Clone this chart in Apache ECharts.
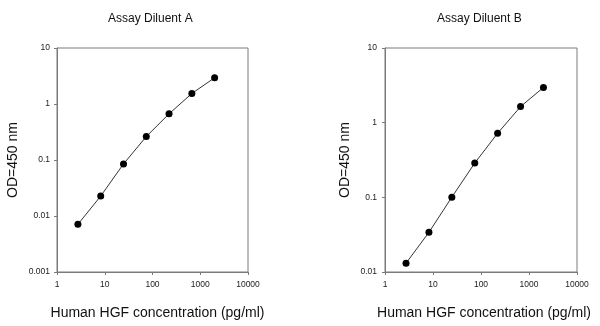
<!DOCTYPE html>
<html>
<head>
<meta charset="utf-8">
<script src="https://cdn.jsdelivr.net/npm/echarts@6/dist/echarts.min.js"></script>
<style>html,body{margin:0;padding:0;background:#fff;}#c{width:600px;height:326px;}</style>
</head>
<body>
<div id="c"></div>
<script>
var concentrations = [2.74, 8.23, 24.7, 74.1, 222, 667, 2000];
var odDiluentA = [0.0071, 0.0227, 0.085, 0.262, 0.667, 1.54, 2.94];
var odDiluentB = [0.0131, 0.034, 0.1006, 0.288, 0.721, 1.64, 2.96];
var titles = ['Assay Diluent A', 'Assay Diluent B'];
var xName = 'Human HGF concentration (pg/ml)';
var yName = 'OD=450 nm';

function pairs(xs, ys) { return xs.map(function (x, i) { return [x, ys[i]]; }); }

var font = 'Liberation Sans, Arial, sans-serif';
var axisColor = '#7a7a7a';
function fmt(v) { return String(+(+v).toPrecision(3)); }
function xAxis(idx, shift) {
  return {
    type: 'log', gridIndex: idx, min: 1, max: 10000, logBase: 10,
    name: xName, nameLocation: 'middle', nameGap: 34,
    nameTextStyle: { fontFamily: font, fontSize: 14, color: '#111', padding: [0, 0, 0, shift] },
    axisLine: { show: true, lineStyle: { color: axisColor, width: 1 } },
    axisTick: { show: true, length: 3, inside: false, lineStyle: { color: axisColor } },
    minorTick: { show: false }, splitLine: { show: false },
    axisLabel: { fontFamily: font, fontSize: 8.5, color: '#222', margin: 8, formatter: fmt }
  };
}
function yAxis(idx, min, gap, margin) {
  return {
    type: 'log', gridIndex: idx, min: min, max: 10, logBase: 10,
    name: yName, nameLocation: 'middle', nameGap: gap,
    nameTextStyle: { fontFamily: font, fontSize: 14, color: '#111' },
    axisLine: { show: true, lineStyle: { color: axisColor, width: 1 } },
    axisTick: { show: true, length: 3, inside: false, lineStyle: { color: axisColor } },
    minorTick: { show: false }, splitLine: { show: false },
    axisLabel: { fontFamily: font, fontSize: 8.5, color: '#222', margin: margin, formatter: fmt }
  };
}
function series(idx, ys) {
  return {
    type: 'line', xAxisIndex: idx, yAxisIndex: idx, data: pairs(concentrations, ys),
    symbol: 'circle', symbolSize: 7, itemStyle: { color: '#000' },
    lineStyle: { color: '#333', width: 1 }, animation: false
  };
}

var chart = echarts.init(document.getElementById('c'), null, { renderer: 'canvas' });
chart.setOption({
  animation: false,
  title: [
    { text: titles[0], left: 108, top: 13, padding: 0, textStyle: { fontFamily: font, fontSize: 12, fontWeight: 'normal', color: '#111' } },
    { text: titles[1], left: 437, top: 13, padding: 0, textStyle: { fontFamily: font, fontSize: 12, fontWeight: 'normal', color: '#111' } }
  ],
  grid: [
    { left: 57, top: 48, width: 191, height: 224, show: true, borderColor: axisColor, borderWidth: 1, backgroundColor: 'transparent' },
    { left: 385, top: 48, width: 192, height: 224, show: true, borderColor: axisColor, borderWidth: 1, backgroundColor: 'transparent' }
  ],
  xAxis: [xAxis(0, 10), xAxis(1, 6)],
  yAxis: [yAxis(0, 0.001, 37, 7), yAxis(1, 0.01, 33, 8)],
  series: [series(0, odDiluentA), series(1, odDiluentB)]
});
</script>
</body>
</html>
